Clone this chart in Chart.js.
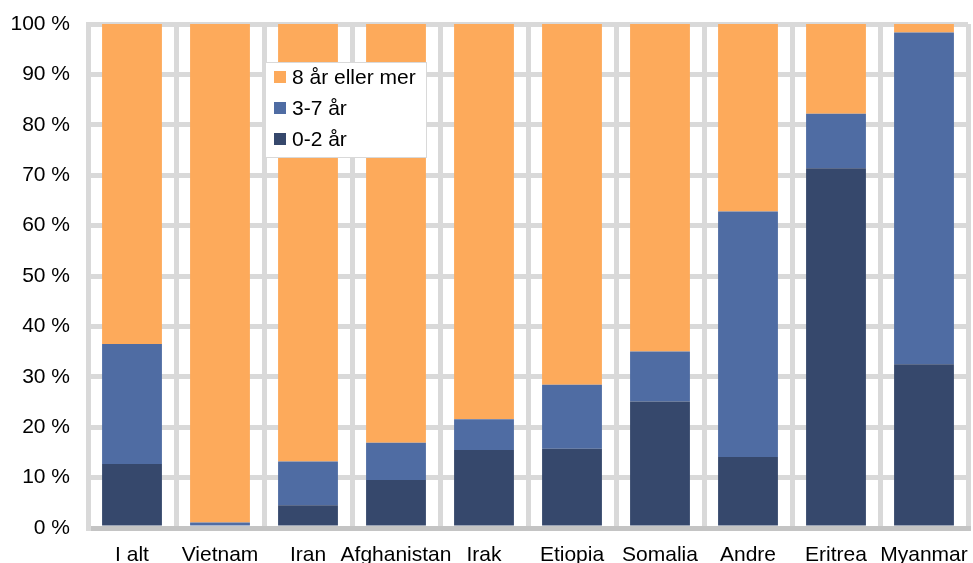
<!DOCTYPE html>
<html lang="no">
<head>
    <meta charset="UTF-8">
    <title>Botid etter land</title>
    <script src="https://cdn.jsdelivr.net/npm/chart.js"></script>
    <style>
        html, body {
            margin: 0;
            padding: 0;
            background: #ffffff;
            overflow: hidden;
        }
        canvas {
            display: block;
        }
    </style>
</head>
<body>
    <canvas id="chart" width="973" height="575"></canvas>

    <script>
        const categories = ['I alt', 'Vietnam', 'Iran', 'Afghanistan', 'Irak', 'Etiopia', 'Somalia', 'Andre', 'Eritrea', 'Myanmar'];
        const years0to2 = [12.7, 0.0, 4.5, 9.5, 15.5, 15.7, 25.1, 14.1, 71.4, 32.5];
        const years3to7 = [23.8, 1.1, 8.7, 7.4, 6.1, 12.7, 9.9, 48.7, 10.8, 65.8];
        const years8plus = [63.5, 98.9, 86.8, 83.1, 78.4, 71.6, 65.0, 37.2, 17.8, 1.7];
        const yTicks = [0, 10, 20, 30, 40, 50, 60, 70, 80, 90, 100];

        const font = "'Liberation Sans', Arial, sans-serif";

        // legend drawn inside the plot, boxed, like the original
        const boxLegend = {
            id: 'boxLegend',
            afterDatasetsDraw(chart) {
                const ctx = chart.ctx;
                const x = 265, y = 62, w = 161, h = 95;
                ctx.save();
                ctx.fillStyle = '#ffffff';
                ctx.fillRect(x, y, w, h);
                ctx.strokeStyle = '#d9d9d9';
                ctx.lineWidth = 1;
                ctx.strokeRect(x + 0.5, y + 0.5, w, h);
                const items = chart.data.datasets.slice().reverse();
                ctx.font = '21px ' + font;
                ctx.textBaseline = 'middle';
                items.forEach((ds, i) => {
                    const cy = y + 15 + i * 31;
                    ctx.fillStyle = ds.backgroundColor;
                    ctx.fillRect(x + 9, cy - 6, 12, 12);
                    ctx.fillStyle = '#000000';
                    ctx.fillText(ds.label, x + 27, cy + 1);
                });
                ctx.restore();
            }
        };

        new Chart(document.getElementById('chart'), {
            type: 'bar',
            data: {
                labels: categories,
                datasets: [
                    { label: '0-2 år', data: years0to2, backgroundColor: '#36486C' },
                    { label: '3-7 år', data: years3to7, backgroundColor: '#4F6CA3' },
                    { label: '8 år eller mer', data: years8plus, backgroundColor: '#FDAA5B' }
                ]
            },
            options: {
                responsive: false,
                animation: false,
                categoryPercentage: 1,
                barPercentage: 0.68,
                layout: { padding: { top: 24, right: 5, left: 0, bottom: 0 } },
                plugins: {
                    legend: { display: false },
                    tooltip: { enabled: false }
                },
                scales: {
                    x: {
                        stacked: true,
                        offset: true,
                        afterFit: s => {
                            s.height = 47;
                            s.paddingLeft = 0;
                            s.paddingRight = 0;
                        },
                        grid: { offset: true, color: '#d9d9d9', lineWidth: 5, drawTicks: false },
                        border: { color: '#c4c4c4', width: 5 },
                        ticks: { color: '#000000', padding: 15, maxRotation: 0, autoSkip: false, font: { size: 21, family: font } }
                    },
                    y: {
                        stacked: true,
                        min: 0,
                        max: 100,
                        afterFit: s => {
                            s.width = 88;
                            s.paddingTop = 0;
                            s.paddingBottom = 0;
                        },
                        afterBuildTicks: s => { s.ticks = yTicks.map(v => ({ value: v })); },
                        grid: { color: '#d9d9d9', lineWidth: 5, drawTicks: false },
                        border: { color: '#d9d9d9', width: 5 },
                        ticks: {
                            color: '#000000',
                            padding: 18,
                            font: { size: 21, family: font },
                            callback: v => v + ' %'
                        }
                    }
                }
            },
            plugins: [boxLegend]
        });
    </script>
</body>
</html>
